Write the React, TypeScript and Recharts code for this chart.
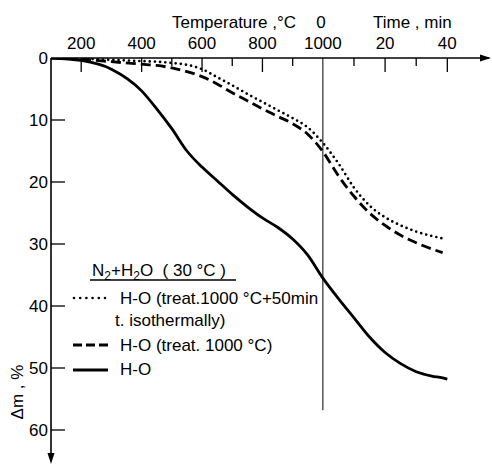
import {
  LineChart,
  Line,
  XAxis,
  YAxis,
  ReferenceLine,
  ReferenceDot,
  Legend,
} from "recharts";

const FONT = "'Liberation Sans', Arial, sans-serif";

// heating part (temperature, °C)
const tempC = [100, 200, 300, 400, 450, 500, 550, 600, 650, 700, 750, 800, 850, 900, 950, 1000];
const solidTemp = [0, 0.4, 1.8, 5.3, 8.2, 11.4, 15.0, 17.6, 19.8, 22.0, 24.0, 25.8, 27.3, 29.2, 31.8, 35.5];
const dashedTemp = [0, 0.2, 0.6, 1.0, 1.2, 1.6, 2.2, 3.0, 4.2, 5.6, 6.9, 8.2, 9.4, 10.6, 12.3, 15.1];
const dottedTemp = [0, 0.1, 0.3, 0.5, 0.6, 0.8, 1.1, 1.8, 3.1, 4.4, 5.8, 7.1, 8.4, 9.7, 11.2, 13.7];

// isothermal part at 1000 °C (time, min)
const timeMin = [5, 10, 15, 20, 25, 30, 35, 38.5, 40];
const solidTime = [38.8, 41.9, 45.0, 47.5, 49.3, 50.6, 51.3, 51.6, 51.8];
const dashedTime = [19.0, 22.3, 25.0, 27.0, 28.6, 29.8, 30.8, 31.4, null];
const dottedTime = [17.0, 20.9, 23.8, 25.7, 27.0, 28.0, 28.7, 29.1, null];

const tempTicks = [200, 400, 500, 600, 700, 800, 900, 1000];
const tempLabels = [200, 400, 600, 800, 1000];
const timeTicks = [10, 20, 30, 40];
const timeLabels = [20, 40];
const yTicks = [0, 10, 20, 30, 40, 50, 60];

const seriesNames = [
  "H-O (treat.1000 °C+50min",
  "H-O (treat. 1000 °C)",
  "H-O",
];

// one shared x axis: 1 min of hold = 10.3 units after 1000 °C
const MIN_SCALE = 10.3;
const timeToX = (t: number) => 1000 + t * MIN_SCALE;

const data = [
  ...tempC.map((t, i) => ({ x: t, solid: solidTemp[i], dashed: dashedTemp[i], dotted: dottedTemp[i] })),
  ...timeMin.map((t, i) => ({ x: timeToX(t), solid: solidTime[i], dashed: dashedTime[i], dotted: dottedTime[i] })),
];

const X_MARGIN = 10;

function XTick(props: any) {
  const { x, y, payload } = props;
  const v = payload.value;
  const axisY = y + X_MARGIN;
  let label = "";
  let long = false;
  if (v <= 1000) {
    if (tempLabels.includes(v)) {
      label = String(v);
      long = true;
    }
  } else {
    const t = Math.round((v - 1000) / MIN_SCALE);
    if (timeLabels.includes(t)) {
      label = String(t);
      long = true;
    }
  }
  return (
    <g>
      {v !== 1000 && (
        <line x1={x} x2={x} y1={axisY} y2={axisY + (long ? 14 : 8)} stroke="#000" strokeWidth={1.3} />
      )}
      {label && (
        <text x={x} y={y + 1} textAnchor="middle" fontFamily={FONT} fontSize={17} fill="#000">
          {label}
        </text>
      )}
      {v === 1000 && (
        <text x={x - 2} y={y - 20.5} textAnchor="middle" fontFamily={FONT} fontSize={17} fill="#000">
          0
        </text>
      )}
    </g>
  );
}

function YTick(props: any) {
  const { x, y, payload } = props;
  const v = payload.value;
  return (
    <g>
      {v > 0 && <line x1={x + 3} x2={x + 17} y1={y} y2={y} stroke="#000" strokeWidth={1.3} />}
      <text x={x} y={y + 6} textAnchor="end" fontFamily={FONT} fontSize={17} fill="#000">
        {v}
      </text>
    </g>
  );
}

function XTitle(props: any) {
  const vb = props.viewBox || { x: 51, y: 28 };
  return (
    <g fontFamily={FONT} fontSize={17} fill="#000">
      <text x={vb.x + 121} y={vb.y - 0.5}>Temperature ,°C</text>
      <text x={vb.x + 322} y={vb.y - 0.5}>Time , min</text>
    </g>
  );
}

function YTitle(props: any) {
  const vb = props.viewBox || { x: 1, y: 58 };
  const cx = vb.x + 22;
  const cy = vb.y + 334;
  return (
    <text
      x={cx}
      y={cy}
      transform={`rotate(-90 ${cx} ${cy})`}
      textAnchor="middle"
      fontFamily={FONT}
      fontSize={17}
      fill="#000"
    >
      Δm , %
    </text>
  );
}

function ArrowRight(props: any) {
  const { cx, cy } = props;
  return <polygon points={`${cx + 2},${cy} ${cx - 9},${cy - 3.5} ${cx - 9},${cy + 3.5}`} fill="#000" />;
}

function ArrowDown(props: any) {
  const { cx, cy } = props;
  return <polygon points={`${cx},${cy + 3} ${cx - 3.5},${cy - 8} ${cx + 3.5},${cy - 8}`} fill="#000" />;
}

function LegendBox() {
  return (
    <svg width={280} height={130} style={{ display: "block", overflow: "visible" }}>
      <g fontFamily={FONT} fontSize={17} fill="#000">
        <text x={22} y={21}>
          N<tspan fontSize={12} dy={4}>2</tspan>
          <tspan dy={-4}>+H</tspan>
          <tspan fontSize={12} dy={4}>2</tspan>
          <tspan dy={-4}>{"O\u00a0\u00a0(\u00a030\u00a0°C\u00a0)"}</tspan>
        </text>
        <line x1={20} x2={166} y1={25} y2={25} stroke="#000" strokeWidth={1.5} />

        <line x1={4} x2={38} y1={43} y2={43} stroke="#000" strokeWidth={2.6} strokeDasharray="0 6.2" strokeLinecap="round" />
        <text x={50} y={48.5}>{seriesNames[0]}</text>
        <text x={45} y={71}>t. isothermally)</text>

        <line x1={3} x2={38} y1={90} y2={90} stroke="#000" strokeWidth={2.8} strokeDasharray="9 4" />
        <text x={50} y={96}>{seriesNames[1]}</text>

        <line x1={3} x2={38} y1={115} y2={115} stroke="#000" strokeWidth={2.8} />
        <text x={50} y={120}>{seriesNames[2]}</text>
      </g>
    </svg>
  );
}

export default function App() {
  return (
    <div style={{ position: "absolute", left: 0, top: 0, background: "#fff" }}>
      <LineChart
        width={492}
        height={465}
        data={data}
        margin={{ top: 28, right: 3, bottom: 4, left: 1 }}
      >
        <XAxis
          type="number"
          dataKey="x"
          orientation="top"
          domain={[100, 1550]}
          ticks={[...tempTicks, ...timeTicks.map(timeToX)]}
          interval={0}
          height={30}
          tickSize={0}
          tickMargin={X_MARGIN}
          tick={<XTick />}
          axisLine={{ stroke: "#000", strokeWidth: 1.6 }}
          label={{ content: XTitle }}
          allowDataOverflow
        />
        <YAxis
          type="number"
          domain={[0, 65]}
          reversed
          ticks={yTicks}
          interval={0}
          width={50}
          tickSize={0}
          tickMargin={3}
          tick={<YTick />}
          axisLine={{ stroke: "#000", strokeWidth: 1.6 }}
          label={{ content: YTitle }}
          allowDataOverflow
        />
        <ReferenceLine
          segment={[{ x: 1000, y: 0 }, { x: 1000, y: 56.8 }]}
          stroke="#000"
          strokeWidth={1}
        />
        <Line
          type="monotone"
          dataKey="dotted"
          stroke="#000"
          strokeWidth={2.7}
          strokeDasharray="0 5.2"
          strokeLinecap="round"
          dot={false}
          connectNulls
          isAnimationActive={false}
        />
        <Line
          type="monotone"
          dataKey="dashed"
          stroke="#000"
          strokeWidth={2.8}
          strokeDasharray="10 5"
          dot={false}
          connectNulls
          isAnimationActive={false}
        />
        <Line
          type="monotone"
          dataKey="solid"
          stroke="#000"
          strokeWidth={2.8}
          dot={false}
          connectNulls
          isAnimationActive={false}
        />
        <ReferenceDot x={1550} y={0} r={0} ifOverflow="visible" shape={ArrowRight} />
        <ReferenceDot x={100} y={65} r={0} ifOverflow="visible" shape={ArrowDown} />
        <Legend
          layout="vertical"
          align="center"
          verticalAlign="middle"
          content={LegendBox}
          wrapperStyle={{ left: 70, top: 255, width: 280, height: 130 }}
        />
      </LineChart>
    </div>
  );
}
